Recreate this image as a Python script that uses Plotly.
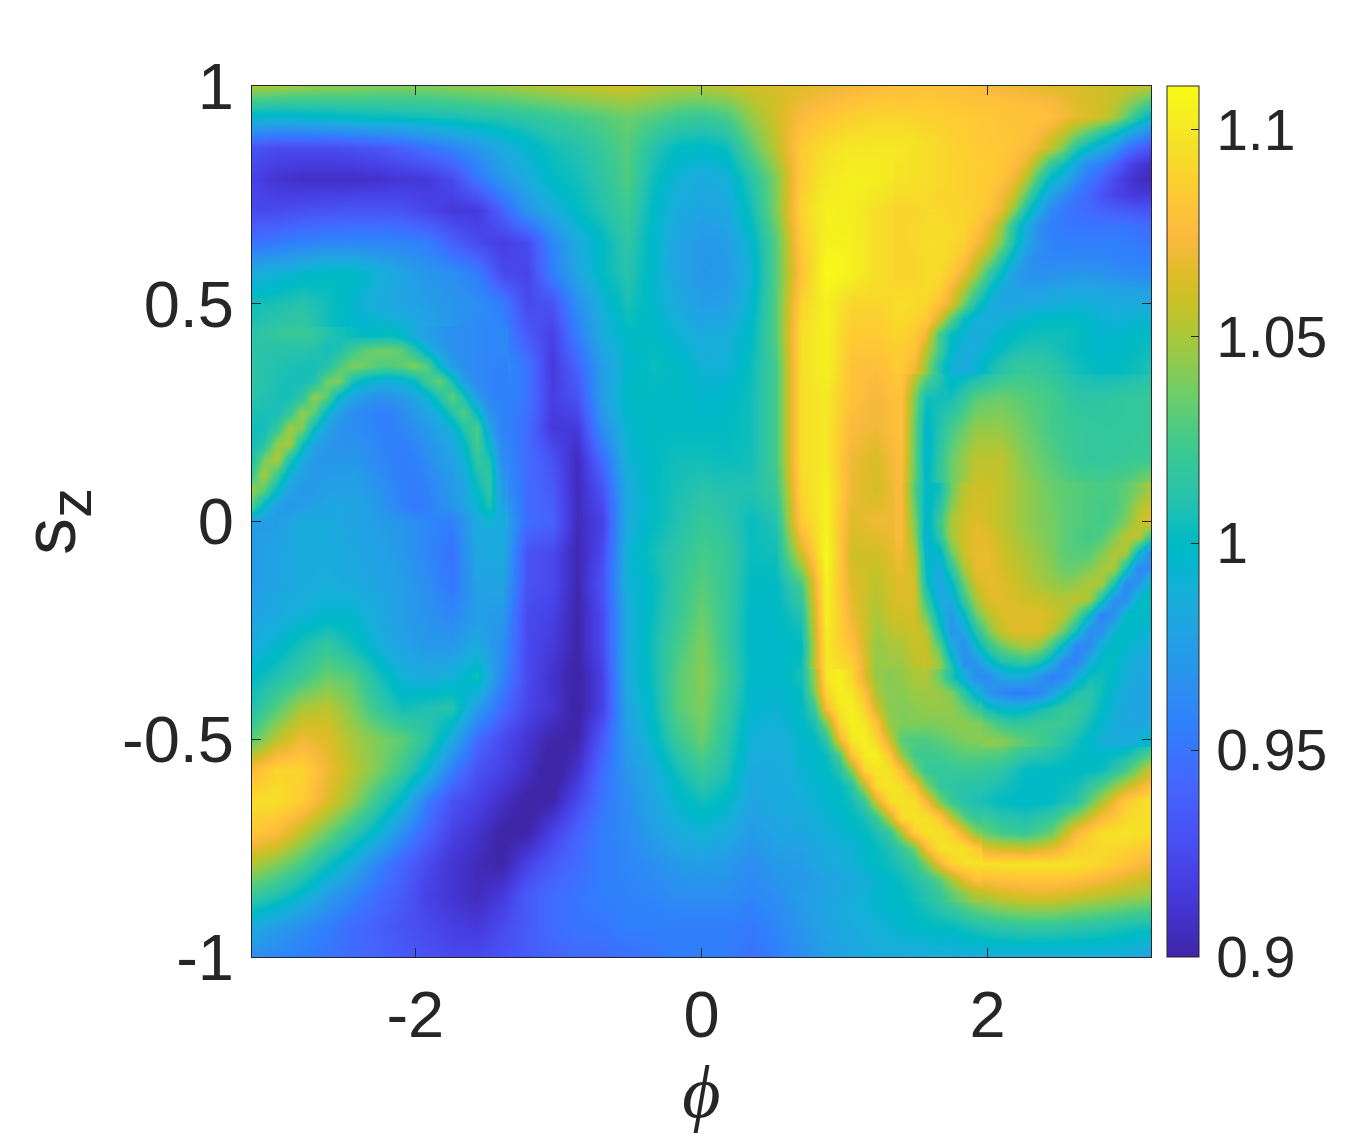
import numpy as np
import plotly.graph_objects as go

row_00 = [1050,1048,1045,1043,1042,1040,1040,1040,1042,1044,1046,1050,1053,1056,1058,1060,1055,1052,1052,1055,1060,1062,1065,1068,1072,1075,1078,1080,1078,1075,1072,1068,1065,1063,1060,1058,1055]
row_01 = [995,993,995,997,1000,1002,1003,1005,1007,1010,1012,1015,1020,1025,1030,1035,1030,1022,1020,1025,1045,1060,1075,1082,1087,1090,1090,1088,1085,1082,1080,1078,1072,1062,1048,1025,1000]
row_02 = [930,925,925,925,928,932,938,948,958,970,985,995,1005,1010,1020,1030,1012,1000,998,1002,1030,1055,1085,1095,1100,1100,1100,1095,1090,1085,1080,1075,1060,1030,1000,972,950]
row_03 = [920,912,908,908,908,910,913,915,925,950,970,985,1000,1005,1015,1028,1005,990,985,988,1012,1040,1085,1100,1105,1103,1098,1095,1090,1088,1082,1070,1035,990,955,930,915]
row_04 = [925,925,928,930,932,932,930,922,915,915,940,970,985,1000,1010,1022,1000,985,980,982,1005,1040,1090,1105,1103,1095,1090,1090,1085,1085,1075,1040,1005,965,940,930,925]
row_05 = [948,952,957,960,960,960,958,955,938,925,918,925,960,985,1000,1015,998,980,972,975,995,1030,1085,1105,1105,1095,1090,1090,1085,1080,1040,1000,962,950,950,950,950]
row_06 = [985,990,995,1000,1000,990,980,970,965,955,925,922,955,980,1000,1012,997,980,970,972,990,1030,1080,1110,1105,1095,1090,1090,1088,1070,1020,985,965,965,970,975,975]
row_07 = [1005,1008,1012,1005,995,985,980,975,970,965,955,925,930,965,990,1007,997,985,975,977,995,1030,1090,1105,1090,1090,1095,1095,1065,1000,975,975,980,982,985,985,985]
row_08 = [1012,1018,1020,1005,995,1000,998,980,970,960,960,935,920,955,985,1000,1000,992,985,987,1000,1030,1095,1105,1085,1085,1090,1070,1000,985,997,1004,1005,1003,995,998,1000]
row_09 = [1015,1012,1008,1010,1035,1040,1042,1035,1000,975,965,950,915,940,975,995,1003,1000,990,990,1003,1025,1095,1105,1080,1078,1085,1045,990,993,1012,1020,1015,1005,1000,1002,1008]
row_10 = [1012,1008,1020,1050,1000,980,975,1000,1030,985,960,950,918,930,975,1000,1000,1000,995,997,1005,1025,1095,1100,1080,1072,1080,1005,1005,1030,1035,1030,1025,1015,1015,1018,1020]
row_11 = [1005,1015,1050,995,970,955,960,965,985,1015,960,945,915,915,965,995,1000,1000,1000,1000,1005,1025,1095,1100,1075,1070,1080,995,1025,1045,1045,1035,1025,1020,1018,1018,1020]
row_12 = [1010,1050,990,970,965,965,960,955,970,1020,965,945,930,905,945,990,1000,1005,1005,1003,1005,1025,1095,1100,1070,1063,1078,995,1035,1055,1055,1040,1030,1020,1018,1020,1022]
row_13 = [1045,1000,970,970,975,975,970,958,960,1000,970,945,935,905,930,985,1000,1007,1012,1010,1010,1020,1090,1105,1070,1060,1075,998,1035,1060,1055,1045,1035,1030,1027,1032,1050]
row_14 = [975,975,985,985,980,975,970,960,955,985,985,945,940,905,920,985,1000,1010,1020,1015,1002,1010,1085,1105,1065,1070,1070,995,1050,1065,1055,1045,1040,1030,1025,1040,1060]
row_15 = [975,980,985,985,982,978,972,960,948,982,985,930,925,902,925,990,1005,1015,1025,1020,1003,1005,1060,1110,1060,1060,1070,990,1040,1062,1055,1045,1035,1030,1030,1052,965]
row_16 = [975,980,985,987,985,980,975,965,950,978,980,930,925,902,930,990,1000,1018,1030,1020,1000,1000,1025,1105,1065,1055,1065,995,1000,1055,1060,1050,1040,1040,1050,965,1000]
row_17 = [980,985,990,995,995,985,975,968,960,975,972,925,920,900,925,985,1002,1020,1035,1020,998,998,1010,1105,1070,1050,1065,1030,975,1020,1055,1060,1055,1010,965,1000,1003]
row_18 = [985,995,1008,1018,1005,990,978,972,972,985,965,925,915,900,925,985,1005,1025,1040,1020,998,996,1000,1100,1080,1045,1052,1055,980,985,1035,1045,1015,970,985,1000,995]
row_19 = [1000,1010,1022,1035,1030,1008,990,985,990,1005,960,925,910,897,920,985,1003,1030,1042,1025,998,996,1005,1100,1095,1045,1045,1052,1010,965,980,995,970,985,995,990,990]
row_20 = [1010,1030,1050,1055,1040,1020,1005,1010,1012,975,945,922,912,897,920,980,1000,1030,1040,1020,995,992,1000,1075,1105,1075,1040,1045,1045,1025,1000,995,1010,1020,995,985,985]
row_21 = [1030,1055,1070,1065,1050,1040,1032,1015,985,945,925,912,900,900,935,975,995,1020,1035,1015,990,987,993,1015,1100,1095,1030,1028,1036,1042,1042,1030,1020,1005,990,985,1000]
row_22 = [1075,1090,1090,1070,1055,1040,1022,995,955,930,920,908,893,910,945,970,985,1005,1020,1010,985,985,988,1000,1040,1098,1080,1020,1020,1020,1015,1000,1000,998,1003,1025,1060]
row_23 = [1095,1095,1085,1065,1045,1020,995,955,930,920,908,897,900,925,950,965,980,995,1005,998,980,985,985,995,1005,1060,1097,1075,1020,1008,1000,998,1000,1012,1050,1085,1098]
row_24 = [1082,1075,1055,1035,1015,995,965,940,920,910,898,900,920,940,955,962,975,985,990,985,973,980,982,990,995,1008,1050,1097,1090,1040,1025,1020,1035,1075,1095,1098,1095]
row_25 = [1052,1040,1025,1005,985,960,940,925,912,905,900,920,935,945,955,960,965,972,975,972,965,972,975,985,990,1000,1010,1040,1090,1097,1097,1097,1097,1097,1090,1080,1070]
row_26 = [1020,1010,995,975,960,945,935,920,912,905,915,935,945,950,955,958,960,965,965,965,960,965,975,980,988,995,1000,1010,1030,1050,1060,1065,1065,1060,1055,1050,1045]
row_27 = [985,975,965,955,945,938,930,925,918,915,925,935,945,950,950,955,955,955,955,955,952,960,970,980,985,990,995,1000,1002,1010,1015,1018,1018,1015,1012,1008,1005]
row_28 = [965,960,955,950,945,940,935,930,925,925,930,935,940,945,945,948,950,955,955,955,948,955,965,975,980,985,985,985,985,985,985,985,985,985,985,985,975]

# finer readings of the thin arc on the left
left_00 = [1012,1015,1018,1020,1020,1018,1010,1006,1003,1000,1000,1002,996,985,975,970,965,965,962,960,960]
left_01 = [1013,1013,1012,1012,1012,1010,1006,1010,1022,1032,1036,1037,1032,1015,992,978,968,965,962,960,960]
left_02 = [1015,1012,1010,1008,1007,1006,1012,1028,1040,1036,1030,1028,1032,1040,1030,998,975,965,962,960,958]
left_03 = [1015,1012,1008,1006,1006,1010,1037,1040,1008,995,990,988,992,1000,1022,1036,1008,975,962,958,956]
left_04 = [1012,1010,1007,1006,1015,1045,1030,995,980,972,968,968,972,980,990,1010,1032,1008,975,960,956]
left_05 = [1008,1007,1006,1018,1045,1030,995,975,965,960,957,957,963,972,980,990,1010,1030,1000,968,958]
left_06 = [1005,1005,1018,1048,1040,1000,978,968,965,962,958,956,960,966,972,980,990,1012,1028,980,958]
left_07 = [1005,1012,1045,1050,1005,980,970,968,968,966,960,956,956,960,968,975,982,998,1025,995,960]
left_08 = [1008,1038,1052,1012,985,972,970,970,970,968,962,958,954,956,964,972,978,990,1018,1010,962]
left_09 = [1022,1050,1020,990,975,972,974,975,975,972,966,960,954,954,960,968,974,984,1008,1016,968]
left_10 = [1045,1030,998,978,972,974,977,978,978,975,970,963,956,953,957,965,972,980,1000,1015,972]
left_11 = [1025,995,975,972,975,978,980,982,980,978,972,965,958,952,955,963,970,978,992,1010,978]
left_12 = [975,975,975,980,985,985,985,982,980,978,975,972,970,965,960,957,955,968,985,990,985]

# finer readings of the steep edge, upper right
rtop_a = [1078,1079,1080,1079,1078,1077,1075,1073,1072,1070,1068,1066,1065,1064,1063,1061,1060,1059,1058,1056,1055]
rtop_b = [1082,1083,1084,1083,1082,1081,1080,1080,1079,1078,1077,1076,1074,1070,1065,1062,1060,1055,1047,1037,1025]
rtop_00 = [1090,1089,1088,1087,1086,1085,1084,1083,1082,1080,1080,1080,1078,1072,1067,1063,1060,1050,1032,1012,995]
rtop_01 = [1095,1094,1092,1090,1088,1086,1084,1083,1082,1082,1080,1074,1066,1056,1042,1028,1015,1002,985,972,960]
rtop_02 = [1100,1097,1095,1092,1090,1087,1085,1084,1083,1080,1076,1067,1055,1038,1012,997,985,972,950,938,930]
rtop_03 = [1098,1096,1094,1092,1090,1088,1086,1085,1083,1077,1068,1043,1018,1003,980,962,955,940,925,915,910]
rtop_04 = [1098,1096,1094,1092,1090,1088,1086,1085,1080,1070,1052,1020,996,985,965,950,940,925,915,908,905]
rtop_05 = [1094,1094,1092,1090,1090,1088,1087,1083,1072,1060,1030,1000,978,962,950,942,930,922,918,915,915]
rtop_06 = [1090,1090,1092,1092,1090,1090,1087,1080,1068,1042,1008,982,962,952,947,943,940,937,934,932,930]
rtop_07 = [1090,1092,1094,1094,1092,1090,1082,1068,1048,1012,985,965,955,952,950,950,950,950,950,947,945]
rtop_08 = [1090,1092,1095,1094,1092,1088,1075,1060,1040,1008,982,965,958,956,955,955,955,955,954,952,950]
rtop_09 = [1090,1090,1094,1094,1090,1080,1062,1045,1018,992,970,963,960,960,960,960,960,958,957,956,955]
rtop_10 = [1090,1090,1094,1093,1085,1068,1050,1020,1000,977,968,965,967,969,970,970,968,966,963,962,960]
rtop_11 = [1092,1092,1093,1090,1072,1052,1028,1003,985,978,975,975,977,979,980,980,979,978,977,976,975]
rtop_12 = [1095,1093,1091,1078,1065,1035,1008,988,980,981,984,985,987,989,990,989,987,985,985,985,985]
rtop_13 = [1092,1090,1085,1062,1030,1000,988,985,988,993,997,999,1000,1000,1000,996,992,990,991,993,995]
rtop_14 = [1090,1085,1070,1025,1000,992,985,990,997,1000,1004,1005,1005,1005,1003,998,995,996,998,999,1000]
rtop_15 = [1085,1082,1055,1025,998,985,987,995,1002,1008,1010,1010,1008,1005,1002,998,997,998,1000,1002,1005]
rtop_16 = [1085,1072,1045,1010,990,985,993,1005,1012,1018,1020,1018,1015,1010,1005,1002,1000,1000,1002,1005,1008]

# finer readings of the thin blue arc, lower right
rbot_a = [1075,1030,998,1005,1035,1055,1060,1060,1055,1050,1045,1040,1035,1032,1030,1028,1027,1028,1032,1040,1050]
rbot_b = [1075,1035,995,1012,1042,1058,1062,1060,1055,1050,1045,1040,1036,1032,1030,1027,1025,1027,1035,1050,1060]
rbot_00 = [1075,1040,995,1020,1050,1060,1065,1060,1055,1050,1045,1040,1038,1032,1030,1027,1025,1030,1040,1055,1065]
rbot_01 = [1075,1045,990,1015,1048,1062,1068,1065,1058,1052,1047,1042,1038,1032,1028,1025,1028,1040,1055,1055,1020]
rbot_02 = [1070,1055,995,995,1035,1060,1068,1068,1060,1055,1050,1045,1040,1032,1030,1030,1040,1052,1050,1000,960]
rbot_03 = [1068,1060,1000,985,1015,1050,1068,1068,1062,1057,1052,1047,1042,1035,1035,1040,1050,1050,1005,960,965]
rbot_04 = [1065,1062,1005,980,998,1035,1060,1068,1065,1060,1055,1050,1047,1043,1045,1052,1050,1010,960,970,1000]
rbot_05 = [1063,1063,1020,985,985,1020,1050,1065,1066,1063,1060,1058,1055,1052,1055,1050,1010,965,965,1000,1002]
rbot_06 = [1060,1062,1035,995,972,1000,1035,1055,1063,1065,1065,1065,1060,1055,1035,1000,958,965,1000,1000,1000]
rbot_07 = [1056,1060,1052,1010,970,982,1015,1040,1058,1065,1065,1065,1055,1035,1005,965,965,995,1000,995,992]
rbot_08 = [1050,1058,1058,1030,985,965,995,1020,1035,1045,1050,1045,1025,995,960,962,990,1000,995,990,988]
rbot_09 = [1047,1055,1058,1045,1005,965,970,995,1010,1015,1018,1010,990,960,958,985,1000,1002,990,985,985]
rbot_10 = [1044,1050,1052,1048,1025,985,962,965,980,985,982,970,955,960,985,1005,1005,998,988,982,982]
rbot_11 = [1042,1046,1047,1047,1040,1015,990,970,960,955,955,960,975,995,1010,1013,1005,992,985,980,980]
rbot_12 = [1040,1043,1045,1045,1045,1035,1020,1005,997,995,998,1005,1012,1020,1020,1012,1000,990,982,980,980]
rbot_13 = [1040,1040,1040,1040,1042,1043,1040,1033,1022,1018,1020,1022,1022,1022,1015,1005,995,988,982,982,985]
rbot_14 = [1030,1028,1028,1032,1036,1040,1042,1043,1042,1035,1030,1025,1020,1012,1005,997,990,985,985,992,1000]

# finer readings of the yellow band where it turns, lower right
band_00 = [1005,1045,1100,1105,1092,1065,1045,1042,1045,1050,1052,1035,1010,985,965]
band_01 = [1000,1040,1090,1105,1100,1080,1050,1042,1042,1047,1047,1047,1040,1015,990]
band_02 = [1000,1020,1075,1100,1105,1090,1060,1042,1040,1043,1045,1045,1045,1035,1020]
band_03 = [998,1008,1040,1090,1105,1100,1080,1045,1040,1040,1040,1040,1042,1043,1040]
band_04 = [995,1000,1015,1070,1100,1105,1092,1060,1030,1028,1028,1032,1036,1040,1042]
band_05 = [994,997,1003,1025,1080,1102,1105,1085,1045,1025,1022,1024,1027,1030,1030]
band_06 = [992,995,1000,1010,1040,1090,1098,1097,1080,1040,1020,1018,1020,1020,1020]
band_07 = [990,993,997,1000,1012,1050,1095,1098,1096,1080,1040,1020,1015,1013,1012]
band_08 = [988,991,995,998,1005,1018,1060,1095,1097,1096,1075,1040,1020,1012,1008]
band_09 = [985,988,992,995,1000,1006,1020,1055,1095,1097,1096,1085,1055,1030,1018]
band_10 = [982,985,990,992,995,1000,1008,1018,1050,1090,1097,1097,1090,1065,1040]
band_11 = [978,982,985,988,990,995,1002,1008,1018,1035,1075,1096,1097,1097,1085]
band_12 = [975,980,985,987,990,995,1000,1005,1010,1020,1040,1070,1090,1096,1097]
band_13 = [972,975,980,982,985,988,992,997,1003,1010,1018,1030,1050,1068,1080]
band_14 = [975,977,980,982,988,990,995,997,1000,1005,1010,1018,1030,1040,1050]

rows = [row_00,row_01,row_02,row_03,row_04,row_05,row_06,row_07,row_08,row_09,
        row_10,row_11,row_12,row_13,row_14,row_15,row_16,row_17,row_18,row_19,
        row_20,row_21,row_22,row_23,row_24,row_25,row_26,row_27,row_28]
left_rows = [left_00,left_01,left_02,left_03,left_04,left_05,left_06,left_07,left_08,left_09,left_10,left_11,left_12]
rtop_rows = [rtop_a,rtop_b,rtop_00,rtop_01,rtop_02,rtop_03,rtop_04,rtop_05,rtop_06,rtop_07,rtop_08,rtop_09,rtop_10,rtop_11,rtop_12,rtop_13,rtop_14,rtop_15,rtop_16]
rbot_rows = [rbot_a,rbot_b,rbot_00,rbot_01,rbot_02,rbot_03,rbot_04,rbot_05,rbot_06,rbot_07,rbot_08,rbot_09,rbot_10,rbot_11,rbot_12,rbot_13,rbot_14]
band_rows = [band_00,band_01,band_02,band_03,band_04,band_05,band_06,band_07,band_08,band_09,band_10,band_11,band_12,band_13,band_14]

z = np.array(rows) / 1000.0
phi = np.linspace(-np.pi, np.pi, z.shape[1])
sz = np.linspace(1, -1, z.shape[0])

x_ticks = [-2, 0, 2]
x_labels = ["-2", "0", "2"]
y_ticks = [-1, -0.5, 0, 0.5, 1]
y_labels = ["-1", "-0.5", "0", "0.5", "1"]
cb_ticks = [0.9, 0.95, 1, 1.05, 1.1]
cb_labels = ["\u200a0.9", "\u200a0.95", "\u200a1", "\u200a1.05", "\u200a1.1"]

parula = [
(.2422,.1504,.6603),(.2504,.1650,.7076),(.2578,.1818,.7511),(.2647,.1978,.7952),
(.2706,.2147,.8364),(.2751,.2342,.8710),(.2783,.2559,.8991),(.2803,.2782,.9221),
(.2813,.3006,.9414),(.2810,.3228,.9579),(.2795,.3447,.9717),(.2760,.3667,.9829),
(.2699,.3892,.9906),(.2602,.4123,.9952),(.2440,.4358,.9988),(.2206,.4603,.9973),
(.1963,.4847,.9892),(.1834,.5074,.9798),(.1786,.5289,.9682),(.1764,.5499,.9520),
(.1687,.5703,.9359),(.1540,.5902,.9218),(.1460,.6091,.9079),(.1380,.6276,.8973),
(.1248,.6459,.8883),(.1113,.6635,.8763),(.0952,.6798,.8598),(.0689,.6948,.8394),
(.0297,.7082,.8163),(.0036,.7203,.7917),(.0067,.7312,.7660),(.0433,.7411,.7394),
(.0964,.7500,.7120),(.1408,.7584,.6842),(.1717,.7670,.6554),(.1938,.7758,.6251),
(.2161,.7843,.5923),(.2470,.7918,.5567),(.2906,.7973,.5188),(.3406,.8008,.4789),
(.3909,.8029,.4354),(.4456,.8024,.3909),(.5044,.7993,.3480),(.5616,.7942,.3045),
(.6174,.7876,.2612),(.6720,.7793,.2227),(.7242,.7698,.1910),(.7738,.7598,.1646),
(.8203,.7498,.1535),(.8634,.7406,.1596),(.9035,.7330,.1774),(.9393,.7288,.2100),
(.9728,.7298,.2394),(.9956,.7434,.2371),(.9970,.7659,.2199),(.9952,.7893,.2028),
(.9892,.8136,.1885),(.9786,.8386,.1766),(.9676,.8639,.1643),(.9610,.8890,.1537),
(.9597,.9135,.1423),(.9628,.9373,.1265),(.9691,.9606,.1064),(.9769,.9839,.0805)]
colorscale = [[i / (len(parula) - 1), f"rgb({r*255:.0f},{g*255:.0f},{b*255:.0f})"]
              for i, (r, g, b) in enumerate(parula)]

INK = "#262626"
FONT = "Liberation Sans"
ZMIN, ZMAX = 0.9, 1.1106

fig = go.Figure()
fig.add_trace(go.Heatmap(
    x=phi, y=sz, z=z, zsmooth="best", zmin=ZMIN, zmax=ZMAX,
    colorscale=colorscale,
    colorbar=dict(
        x=1.0178, xanchor="left", xpad=0, y=0, yanchor="bottom", ypad=0,
        len=1, lenmode="fraction", thickness=32, thicknessmode="pixels",
        outlinecolor=INK, outlinewidth=1,
        tickmode="array", tickvals=cb_ticks, ticktext=cb_labels,
        ticks="inside", ticklen=8, tickcolor=INK, tickwidth=1,
        tickfont=dict(family=FONT, size=57, color=INK),
    ),
))

def add_fine(fine_rows, col_a, col_b, row_a, row_b):
    zf = np.array(fine_rows) / 1000.0
    fig.add_trace(go.Heatmap(
        x=np.linspace(phi[col_a], phi[col_b], zf.shape[1]),
        y=np.linspace(sz[row_a], sz[row_b], zf.shape[0]),
        z=zf, zsmooth="best", zmin=ZMIN, zmax=ZMAX,
        colorscale=colorscale, showscale=False,
    ))

add_fine(left_rows, 0, 10, 8, 14)
add_fine(rtop_rows, 26, 36, 0, 9)
add_fine(rbot_rows, 26, 36, 13, 21)
add_fine(band_rows, 22, 29, 19, 26)

fig.update_layout(
    width=1344, height=1134, autosize=False,
    margin=dict(l=244, r=201, t=78, b=185),
    paper_bgcolor="white", plot_bgcolor="white",
    font=dict(family=FONT, color=INK),
    xaxis=dict(
        range=[-np.pi, np.pi], tickmode="array", tickvals=x_ticks, ticktext=x_labels,
        ticks="inside", ticklen=9, tickwidth=1, tickcolor=INK,
        showline=True, linecolor=INK, linewidth=1, mirror="ticks",
        showgrid=False, zeroline=False, ticklabelstandoff=1,
        tickfont=dict(family=FONT, size=65, color=INK),
        title=dict(text="<i>\u03d5</i>", font=dict(family="Liberation Serif", size=74, color=INK), standoff=13),
    ),
    yaxis=dict(
        range=[-1, 1], tickmode="array", tickvals=y_ticks, ticktext=y_labels,
        ticks="inside", ticklen=9, tickwidth=1, tickcolor=INK,
        showline=True, linecolor=INK, linewidth=1, mirror="ticks",
        showgrid=False, zeroline=False, ticklabelstandoff=4,
        tickfont=dict(family=FONT, size=65, color=INK),
        title=dict(text="s<sub><span style=\"font-size:60px\">z</span></sub>",
                   font=dict(family=FONT, size=74, color=INK), standoff=34),
    ),
)
fig.write_html("out.html")
